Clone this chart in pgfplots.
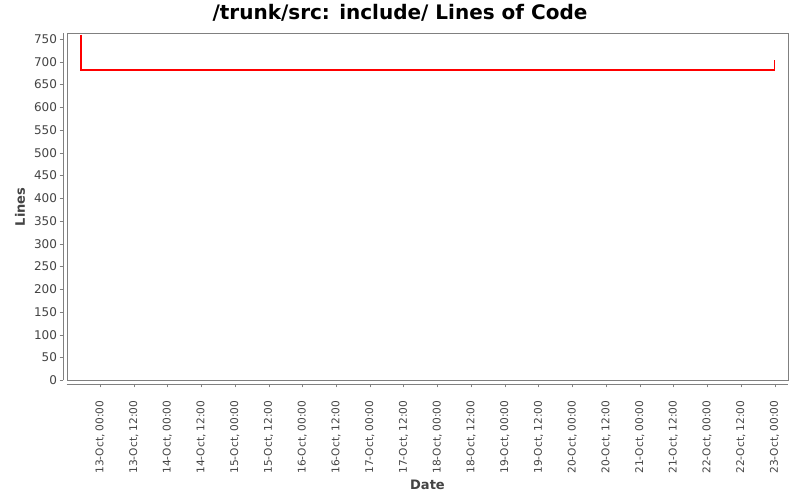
\documentclass[border=0pt]{standalone}
\usepackage{pgfplots}
\pgfplotsset{compat=1.18}
\usepackage{fontspec}
\setmainfont{DejaVu Sans}
\definecolor{framegray}{HTML}{808080}
\definecolor{labelgray}{HTML}{444444}
\definecolor{linered}{RGB}{255,0,0}
\begin{document}
\begin{tikzpicture}[x=1pt,y=1pt]
\path[use as bounding box, fill=white] (0,0) rectangle (800,500);
\node[font=\fontsize{20}{22}\selectfont\bfseries] at (400,487) {/trunk/src: include/ Lines of Code};
\begin{axis}[
    at={(66.7pt,119.7pt)}, anchor=south west,
    scale only axis,
    width=721.6pt, height=347pt,
    xmin=-0.493, xmax=10.203,
    ymin=0, ymax=762.5,
    axis line style={framegray},
    tick align=outside,
    major tick length=3pt,
    tick style={framegray},
    x tick style={yshift=-4pt},
    y tick style={xshift=-4pt},
    xtick={0,0.5,...,10},
    xticklabels={{13-Oct, 00:00},{13-Oct, 12:00},{14-Oct, 00:00},{14-Oct, 12:00},{15-Oct, 00:00},{15-Oct, 12:00},{16-Oct, 00:00},{16-Oct, 12:00},{17-Oct, 00:00},{17-Oct, 12:00},{18-Oct, 00:00},{18-Oct, 12:00},{19-Oct, 00:00},{19-Oct, 12:00},{20-Oct, 00:00},{20-Oct, 12:00},{21-Oct, 00:00},{21-Oct, 12:00},{22-Oct, 00:00},{22-Oct, 12:00},{23-Oct, 00:00}},
    ytick={0,50,...,750},
    xtick pos=bottom, ytick pos=left,
    /pgf/number format/assume math mode=true,
    xticklabel style={rotate=90, anchor=east, inner sep=0pt, text=labelgray,
        font=\fontsize{10.6}{11}\selectfont, xshift=-17pt},
    yticklabel style={anchor=east, inner sep=0pt, text=labelgray,
        font=\fontsize{12}{13}\selectfont, xshift=-6.5pt},
    xlabel={Date}, ylabel={Lines},
    label style={font=\fontsize{13}{15}\selectfont\bfseries, text=labelgray},
    xlabel style={at={(axis description cs:0.5,-0.3017)}, anchor=center},
    ylabel style={at={(axis description cs:-0.0647,0.5)}, anchor=center},
    clip=false,
]
\addplot[color=linered, line width=1.15pt, mark=none] coordinates {
    (-0.281,759) (-0.281,682) (10.0,682) (10.0,704)
};
\draw[framegray] ([yshift=-4pt]rel axis cs:0,0) -- ([yshift=-4pt]rel axis cs:1,0);
\draw[framegray] ([xshift=-4pt]rel axis cs:0,0) -- ([xshift=-4pt]rel axis cs:0,1);
\end{axis}
\end{tikzpicture}
\end{document}
